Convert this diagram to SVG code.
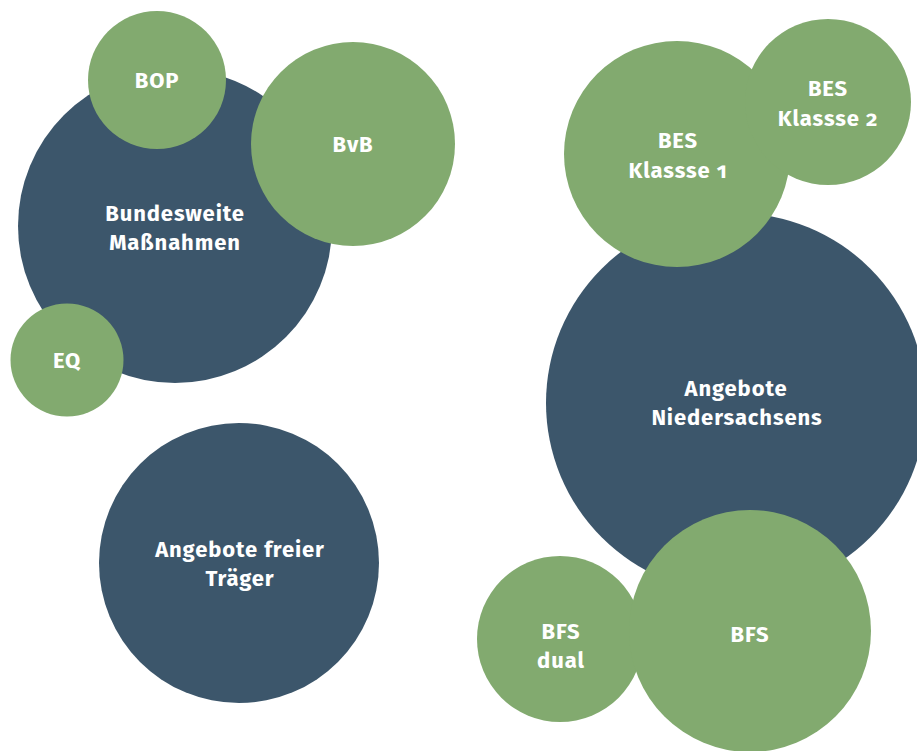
<svg xmlns="http://www.w3.org/2000/svg" width="917" height="751" viewBox="0 0 917 751">
  <style>
    .dark { fill: #3c566b; }
    .green { fill: #82aa6f; }
    text { font-family: "Fira Sans", "Open Sans", "Noto Sans", sans-serif; font-weight: 700; font-size: 22px; letter-spacing: 0.9px; font-variant-numeric: oldstyle-nums; fill: #ffffff; text-anchor: middle; }
  </style>
  <rect width="917" height="751" fill="#ffffff"/>

  <!-- Bundesweite Maßnahmen cluster -->
  <g id="bundesweite">
    <circle class="dark" cx="175" cy="226" r="157"/>
    <text x="175" y="221">Bundesweite</text>
    <text x="175" y="250">Maßnahmen</text>
  </g>
  <g id="bop">
    <circle class="green" cx="157" cy="80" r="69"/>
    <text x="157" y="88">BOP</text>
  </g>
  <g id="bvb">
    <circle class="green" cx="353" cy="144" r="102"/>
    <text x="353" y="152">BvB</text>
  </g>
  <g id="eq">
    <circle class="green" cx="67" cy="360" r="56.5"/>
    <text x="67" y="368">EQ</text>
  </g>

  <!-- Angebote freier Träger -->
  <g id="freie-traeger">
    <circle class="dark" cx="239" cy="563" r="140"/>
    <text x="240" y="557">Angebote freier</text>
    <text x="240" y="586">Träger</text>
  </g>

  <!-- Angebote Niedersachsens cluster -->
  <g id="niedersachsen">
    <circle class="dark" cx="736" cy="403" r="190"/>
    <text x="736" y="396">Angebote</text>
    <text x="737" y="425">Niedersachsens</text>
  </g>
  <g id="bes1">
    <circle class="green" cx="677" cy="154" r="113"/>
    <text x="678" y="148">BES</text>
    <text x="678" y="178">Klassse 1</text>
  </g>
  <g id="bes2">
    <circle class="green" cx="828" cy="102" r="83"/>
    <text x="828" y="96">BES</text>
    <text x="828" y="126">Klassse 2</text>
  </g>
  <g id="bfs-dual">
    <circle class="green" cx="560" cy="639" r="83"/>
    <text x="561" y="639">BFS</text>
    <text x="561" y="668">dual</text>
  </g>
  <g id="bfs">
    <circle class="green" cx="750" cy="631" r="121"/>
    <text x="750" y="642">BFS</text>
  </g>

  <g id="connectors"></g>
</svg>
